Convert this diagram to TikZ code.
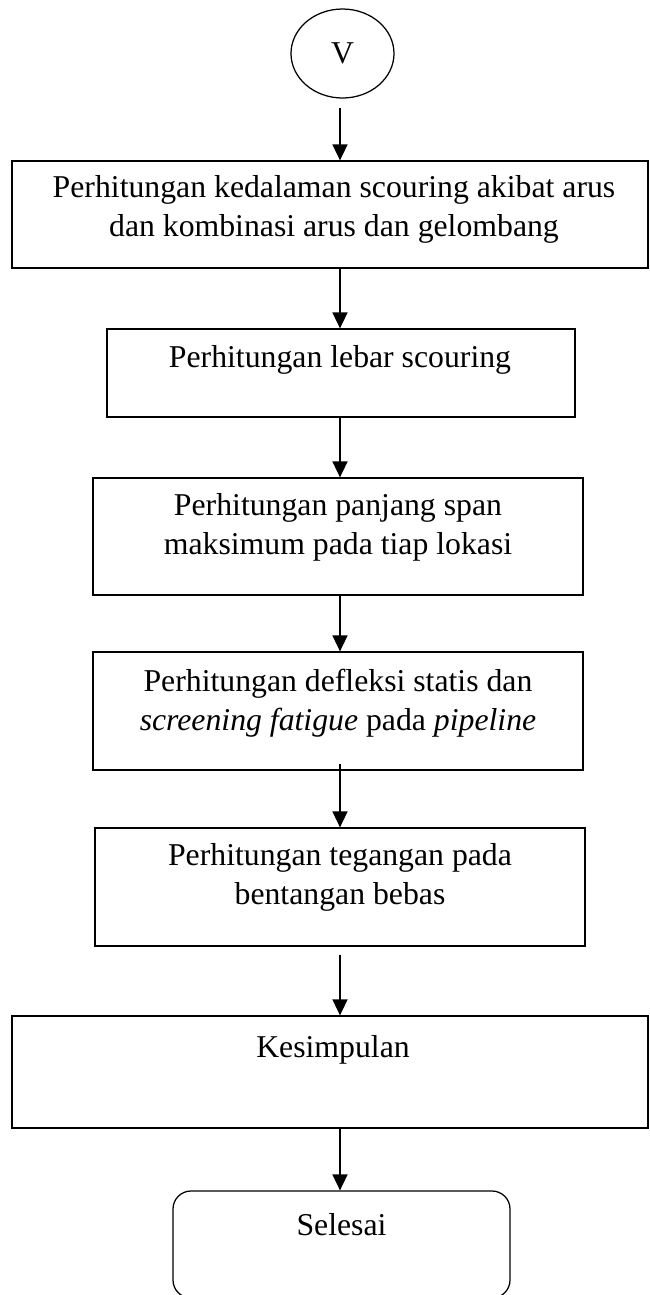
\documentclass[tikz,border=0pt]{standalone}
\usepackage{fontspec}
\setmainfont{Liberation Serif}
\usetikzlibrary{shapes.geometric, arrows.meta}

\begin{document}
\begin{tikzpicture}[x=0.4pt, y=-0.4pt, >={Triangle[length=6.4pt, width=6pt]},
    box/.style={draw, line width=0.5pt, inner sep=0pt},
    txt/.style={align=center, font=\fontsize{12.7}{15.6}\selectfont},
    panah/.style={->, line width=0.65pt}]
    % 画布范围
    \useasboundingbox (0,0) rectangle (650,1295);

    % 起点圆 V
    \node[box, ellipse, minimum width=41.2pt, minimum height=35.6pt, txt] (v) at (342.5,53.5) {V};
    \coordinate (ax) at (340,0);

    % 各步骤方框
    \node[box, minimum width=254.4pt, minimum height=42.8pt] (b1) at (330,214.5) {};
    \node[box, minimum width=187.2pt, minimum height=35.2pt] (b2) at (341,373) {};
    \node[box, minimum width=196pt, minimum height=46.8pt] (b3) at (338,536.5) {};
    \node[box, minimum width=196pt, minimum height=47.2pt] (b4) at (338,711) {};
    \node[box, minimum width=196pt, minimum height=47.2pt] (b5) at (340,887) {};
    \node[box, minimum width=254.4pt, minimum height=44.8pt] (b6) at (330,1072) {};
    \node[box, rounded corners=7.2pt, minimum width=134.8pt, minimum height=42.8pt] (b7) at (341.5,1244.5) {};

    % 方框文字
    \node[txt] (t1) at (334,209) {Perhitungan kedalaman scouring akibat arus\\dan kombinasi arus dan gelombang};
    \node[txt] (t2) at (340,360) {Perhitungan lebar scouring};
    \node[txt] (t3) at (338,527) {Perhitungan panjang span\\maksimum pada tiap lokasi};
    \node[txt] (t4) at (338,703) {Perhitungan defleksi statis dan\\\textit{screening fatigue} pada \textit{pipeline}};
    \node[txt] (t5) at (340,877.5) {Perhitungan tegangan pada\\bentangan bebas};
    \node[txt] (t6) at (333,1050) {Kesimpulan};
    \node[txt] (t7) at (341.5,1225) {Selesai};

    % 箭头
    \draw[panah, shorten <=3.6pt] (v.south -| ax) -- (b1.north -| ax);
    \draw[panah] (b1.south -| ax) -- (b2.north -| ax);
    \draw[panah] (b2.south -| ax) -- (b3.north -| ax);
    \draw[panah] (b3.south -| ax) -- (b4.north -| ax);
    \draw[panah, xshift=1.6pt, shorten <=-2.8pt] (b4.south -| ax) -- (b5.north -| ax);
    \draw[panah, shorten <=3.2pt] (b5.south -| ax) -- (b6.north -| ax);
    \draw[panah] (b6.south -| ax) -- (b7.north -| ax);
\end{tikzpicture}
\end{document}
